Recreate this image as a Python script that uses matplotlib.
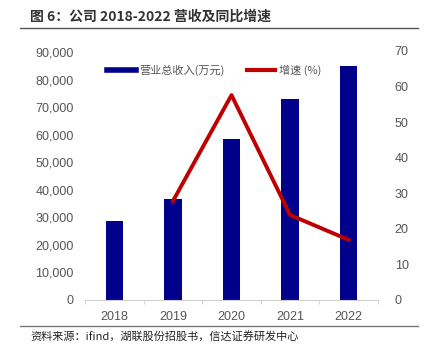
import matplotlib
matplotlib.use("Agg")
import matplotlib.pyplot as plt
from matplotlib.lines import Line2D
from matplotlib.ticker import FuncFormatter

plt.rcParams['font.family'] = ['Liberation Sans', 'Noto Sans CJK SC', 'DejaVu Sans']

years = ["2018", "2019", "2020", "2021", "2022"]
revenue = [28600, 36600, 58300, 72800, 85100]
growth = [None, 27.8, 57.6, 23.9, 16.9]

fig = plt.figure(figsize=(4.25, 3.55), dpi=100)
ax = fig.add_axes([85/425, 55/355, 293/425, (300-51)/355])
ax2 = ax.twinx()

x = list(range(len(years)))
bar_color = '#00008B'
line_color = '#C00000'
ax.bar(x, revenue, width=0.3, color=bar_color, zorder=2)
gx = [i for i, g in zip(x, growth) if g is not None]
gy = [g for g in growth if g is not None]
ax2.plot(gx, gy, color=line_color, lw=2.8, zorder=3)

ax.set_xlim(-0.5, 4.5)
ax.set_ylim(0, 90000 * (249/248))
ax.set_yticks(range(0, 90001, 10000))
ax.yaxis.set_major_formatter(FuncFormatter(lambda v, p: f"{int(v):,}"))
ax2.set_ylim(0, 70)
ax2.set_yticks(range(0, 71, 10))

ax.set_xticks(x)
ax.set_xticklabels(years)
ax.set_xticks([i + 0.5 for i in range(-1, 5)], minor=True)

for a in (ax, ax2):
    for s in a.spines.values():
        s.set_visible(False)
ax.spines['bottom'].set_visible(True)
ax.spines['bottom'].set_color('#D0D0D0')
ax.tick_params(axis='x', which='major', length=0, labelsize=9, colors='#555555', pad=8)
ax.tick_params(axis='x', which='minor', length=3, color='#D0D0D0', direction='out')
ax.tick_params(axis='y', length=0, labelsize=9, colors='#555555', pad=8)
ax2.tick_params(axis='y', length=0, labelsize=9, colors='#555555', pad=12)

handles = [Line2D([0], [0], color=bar_color, lw=4),
           Line2D([0], [0], color=line_color, lw=3)]
leg = ax.legend(handles, ["营业总收入(万元)", "增速 (%)"], loc='upper left',
                bbox_to_anchor=(0.04, 0.985), ncol=2, frameon=False,
                handlelength=2.6, columnspacing=2.0, handletextpad=0.3,
                prop={'family': ['Noto Sans CJK SC', 'DejaVu Sans'], 'size': 8})
for t in leg.get_texts():
    t.set_color('#555555')

fig.text(30/425, 1 - 17/355, "图 6：公司 2018-2022 营收及同比增速", fontsize=10,
         fontweight='bold', color='#333333', va='center', ha='left',
         family=['Noto Sans CJK SC', 'DejaVu Sans'])
fig.add_artist(Line2D([20/425, 418/425], [1 - 28/355, 1 - 28/355], color='#555555', lw=1))
fig.add_artist(Line2D([20/425, 418/425], [1 - 326/355, 1 - 326/355], color='#777777', lw=1))
fig.text(30/425, 1 - 336/355, "资料来源：ifind，湖联股份招股书，信达证券研发中心", fontsize=8,
         style='italic', color='#222222', va='center', ha='left',
         family=['Noto Sans CJK SC', 'DejaVu Sans'])

fig.savefig("out.png", dpi=100)
